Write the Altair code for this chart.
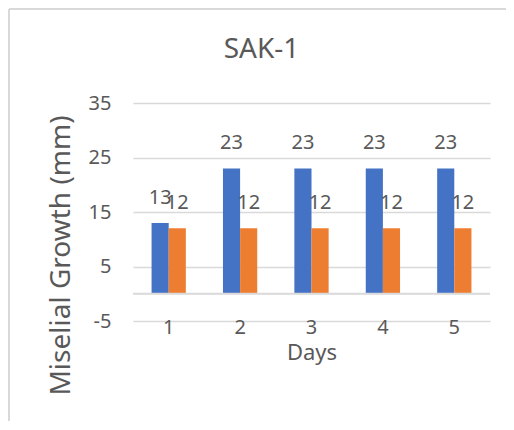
import altair as alt
import pandas as pd

days = ["1", "2", "3", "4", "5"]
series_names = ["A", "B"]
series_a = [13, 23, 23, 23, 23]
series_b = [12, 12, 12, 12, 12]
y_ticks = [-5, 5, 15, 25, 35]
colors = ["#4472C4", "#ED7D31"]
title_text = ["SAK-1"]

rows = []
for d, a, b in zip(days, series_a, series_b):
    rows.append({"Day": d, "Series": series_names[0], "Value": a})
    rows.append({"Day": d, "Series": series_names[1], "Value": b})
df = pd.DataFrame(rows)

FONT = "Noto Sans"
GRAY = "#595959"
GRID = "#d9d9d9"
W, H = 357, 218

x_enc = alt.X("Day:N", sort=days, title="Days",
              scale=alt.Scale(paddingInner=0.52, paddingOuter=0.26),
              axis=alt.Axis(labelAngle=0, domain=False, ticks=False, grid=False,
                            labelPadding=-4, labelFontSize=20, labelColor=GRAY, labelFont=FONT,
                            titleFontSize=22, titleColor=GRAY, titleFont=FONT, titleFontWeight="normal",
                            titleY=31, titleBaseline="middle"))
y_scale = alt.Scale(domain=[-5, 35], nice=False, zero=False)

bars = alt.Chart(df).mark_bar().encode(
    x=x_enc,
    xOffset=alt.XOffset("Series:N", sort=series_names),
    y=alt.Y("Value:Q", scale=y_scale, title="Miselial Growth (mm)",
            axis=alt.Axis(values=y_ticks, domain=False, ticks=False, gridColor=GRID, gridWidth=1.5,
                          labelExpr="'' + datum.value",
                          labelPadding=22, labelFontSize=20, labelColor=GRAY, labelFont=FONT,
                          titleFontSize=28, titleColor=GRAY, titleFont=FONT, titleFontWeight="normal",
                          titleAngle=-90, titleX=-72, titleY=152, titleAlign="center",
                          titleBaseline="middle")),
    y2=alt.datum(0),
    color=alt.Color("Series:N", scale=alt.Scale(domain=series_names, range=colors), legend=None),
)

labels = alt.Chart(df).mark_text(baseline="bottom", dy=-15, fontSize=20, color=GRAY, font=FONT).encode(
    x=alt.X("Day:N", sort=days),
    xOffset=alt.XOffset("Series:N", sort=series_names),
    y=alt.Y("Value:Q", scale=y_scale),
    text=alt.Text("Value:Q"),
)

zero = alt.Chart(pd.DataFrame({"z": [0]})).mark_rule(color=GRID, strokeWidth=2).encode(
    y=alt.Y("z:Q", scale=y_scale)
)

frame_top = alt.Chart(pd.DataFrame({"z": [0]})).mark_rule(color=GRID, strokeWidth=2).encode(
    x=alt.value(-124), x2=alt.value(W + 40), y=alt.value(-94)
)
frame_left = alt.Chart(pd.DataFrame({"z": [0]})).mark_rule(color=GRID, strokeWidth=2).encode(
    x=alt.value(-124), y=alt.value(-94), y2=alt.value(H + 120)
)

title = alt.Chart(pd.DataFrame({"t": title_text})).mark_text(
    fontSize=28, font=FONT, color=GRAY, baseline="middle", align="center"
).encode(x=alt.value(W / 2 - 50), y=alt.value(-53), text="t:N")

chart = alt.layer(bars, zero, labels, frame_top, frame_left, title).properties(
    width=W, height=H,
    background="white",
    autosize=alt.AutoSizeParams(type="none"),
    padding={"left": 125, "top": 95, "right": 16, "bottom": 100},
).configure_view(strokeWidth=0, stroke="transparent"
).configure_axis(domain=False, ticks=False
).configure_axisX(grid=False)

chart.save("out.html", embed_options={"renderer": "svg", "actions": False})
